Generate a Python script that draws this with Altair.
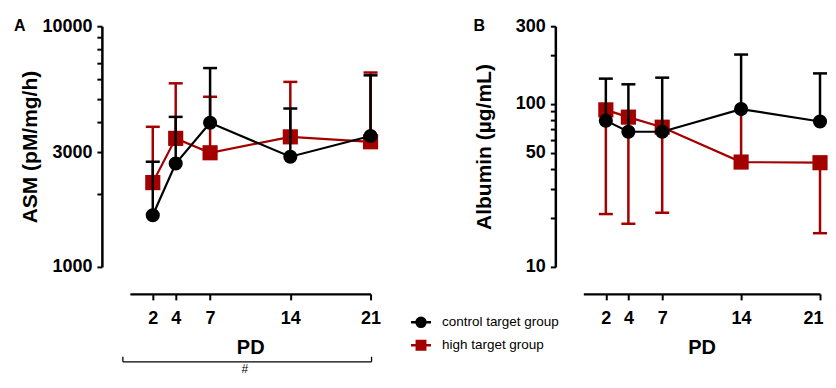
import altair as alt
import pandas as pd

# ---------------- data ----------------
PD = [2, 4, 7, 14, 21]
groups = ["control target group", "high target group"]
colors = ["#000000", "#a30000"]

# Panel A: ASM (pM/mg/h), mean and upper error end
asm_control = [1640, 2690, 3970, 2870, 3500]
asm_control_err = [2735, 4200, 6700, 4550, 6250]
asm_high = [2240, 3420, 2980, 3470, 3310]
asm_high_err = [3820, 5790, 5090, 5870, 6420]

# Panel B: Albumin (ug/mL), mean and error end
alb_control = [79, 67.5, 67.5, 93, 78]
alb_control_err = [143, 132, 145, 201, 154]
alb_high = [92, 83, 72, 44, 43.6]
alb_high_err = [21.1, 18.4, 21.5, 92, 16.1]

asm_ticks = [1000, 2000, 3000, 4000, 5000, 6000, 7000, 8000, 9000, 10000]
asm_labels = [1000, 3000, 10000]
alb_ticks = [10, 20, 30, 40, 50, 60, 70, 80, 90, 100, 200, 300]
alb_labels = [10, 50, 100, 300]

FONT = "Liberation Sans"

# legend symbols: line through a dot / square
sym_circle = ("M-1,0H-0.45 M-0.45,0 A0.45,0.45 0 1,0 0.45,0 A0.45,0.45 0 1,0 -0.45,0 "
              "M0.45,0H1")
sym_square = "M-1,0H-0.42 M-0.42,-0.42H0.42V0.42H-0.42Z M0.42,0H1"


def frame(ctrl, ctrl_err, high, high_err):
    rows = []
    for g, vals, errs in [(groups[0], ctrl, ctrl_err), (groups[1], high, high_err)]:
        for p, v, e in zip(PD, vals, errs):
            rows.append({"PD": p, "group": g, "value": v, "err": e})
    return pd.DataFrame(rows)


df_a = frame(asm_control, asm_control_err, asm_high, asm_high_err)
df_b = frame(alb_control, alb_control_err, alb_high, alb_high_err)


def x_enc(flush):
    extra = {"labelFlush": 1, "labelFlushOffset": 3} if flush else {"labelFlush": False}
    return alt.X(
        "PD:Q",
        scale=alt.Scale(domain=[0, 21], nice=False, zero=False),
        axis=alt.Axis(
            values=PD, title="PD", offset=27, tickSize=6, tickWidth=2,
            domainWidth=2.5, domainColor="black", tickColor="black",
            labelColor="black", titleColor="black", labelFont=FONT, titleFont=FONT,
            labelFontSize=18, labelFontWeight="bold", titleFontSize=20,
            titleFontWeight="bold", grid=False,
            labelPadding=10, titlePadding=10, labelOverlap=False, **extra,
        ),
    )


def y_enc(field, domain, ticks, labels, title):
    lab = "indexof([" + ",".join(str(v) for v in labels) + "], datum.value) >= 0 ? format(datum.value, 'd') : ''"
    return alt.Y(
        field,
        scale=alt.Scale(type="log", domain=domain, nice=False),
        axis=alt.Axis(
            values=ticks, labelExpr=lab, title=title, offset=28, tickSize=5,
            tickWidth=2, domainWidth=2.5, domainColor="black", tickColor="black",
            labelColor="black", titleColor="black", labelFont=FONT, titleFont=FONT,
            labelFontSize=18, labelFontWeight="bold", titleFontSize=21,
            titleFontWeight="bold", labelOverlap=False, labelFlush=False,
            grid=False, labelPadding=5, titleX=-65, titleBaseline="alphabetic",
            titleAngle=270,
        ),
    )


def series_layers(df, domain, ticks, labels, title, flush):
    y = y_enc("value:Q", domain, ticks, labels, title)
    x = x_enc(flush)
    layers = []
    for g, col, shape, size in [(groups[1], colors[1], "square", 230),
                                (groups[0], colors[0], "circle", 200)]:
        base = alt.Chart(df).transform_filter(alt.datum.group == g)
        rule = base.mark_rule(color=col, strokeWidth=2.5).encode(
            x=x, y=y, y2="err:Q")
        cap = base.mark_tick(color=col, orient="horizontal", size=14,
                             thickness=2.5, opacity=1).encode(
            x=x, y=alt.Y("err:Q"))
        line = base.mark_line(color=col, strokeWidth=2.2).encode(x=x, y=y)
        pts = base.mark_point(shape=shape, filled=True, size=size, color=col,
                              opacity=1).encode(x=x, y=y)
        layers += [rule, cap, line, pts]
    return layers


def one_row(df):
    return alt.Chart(df).transform_filter(alt.datum.PD == PD[0]).transform_filter(
        alt.datum.group == groups[0])


def panel_label(df, letter, dx):
    return one_row(df).mark_text(
        text=letter, font=FONT, fontSize=16, fontWeight="bold", align="left",
        baseline="alphabetic", color="black").encode(
        x=alt.value(dx), y=alt.value(5))


# ---------- Panel A ----------
layers_a = series_layers(df_a, [1000, 10000], asm_ticks, asm_labels, "ASM (pM/mg/h)", False)
bracket_base = one_row(df_a)
bracket_h = bracket_base.mark_rule(color="black", strokeWidth=1.3).encode(
    x=alt.value(-7), x2=alt.value(242), y=alt.value(336))
bracket_l = bracket_base.mark_rule(color="black", strokeWidth=1.3).encode(
    x=alt.value(-7), y=alt.value(331), y2=alt.value(336))
bracket_r = bracket_base.mark_rule(color="black", strokeWidth=1.3).encode(
    x=alt.value(242), y=alt.value(331), y2=alt.value(336))
hash_txt = bracket_base.mark_text(text="#", font=FONT, fontSize=12, align="center",
                                  baseline="middle", color="black").encode(
    x=alt.value(115), y=alt.value(343))

panel_a = alt.layer(*layers_a, panel_label(df_a, "A", -116), bracket_h, bracket_l,
                    bracket_r, hash_txt).properties(width=241, height=241)

# ---------- Panel B ----------
layers_b = series_layers(df_b, [10, 300], alb_ticks, alb_labels, "Albumin (µg/mL)", True)
legend_layer = alt.Chart(df_b).transform_filter(alt.datum.PD < 0).mark_point(
    filled=True, opacity=1, strokeWidth=2.5).encode(
    x=x_enc(True), y=alt.Y("value:Q"),
    fill=alt.Fill("group:N", scale=alt.Scale(domain=groups, range=colors),
                  legend=alt.Legend(orient="none", legendX=-174, legendY=285,
                                    title=None, labelFont=FONT, labelFontSize=13.5,
                                    labelColor="black", symbolSize=400,
                                    symbolStrokeWidth=2.5, labelOffset=9.5,
                                    rowPadding=2, symbolOpacity=1)),
    stroke=alt.Stroke("group:N", scale=alt.Scale(domain=groups, range=colors)),
    shape=alt.Shape("group:N", scale=alt.Scale(domain=groups, range=[sym_circle, sym_square])),
)
panel_b = alt.layer(*layers_b, legend_layer, panel_label(df_b, "B", -110)).properties(
    width=237, height=241)

chart = alt.hconcat(panel_a, panel_b, spacing=28).resolve_legend(
    fill="independent", stroke="independent", shape="independent"
).properties(padding={"left": 6, "top": 9, "right": 0, "bottom": 0}).configure(
    font=FONT).configure_view(strokeWidth=0, stroke="transparent")

chart.save("out.html", embed_options={"renderer": "svg", "actions": False})
